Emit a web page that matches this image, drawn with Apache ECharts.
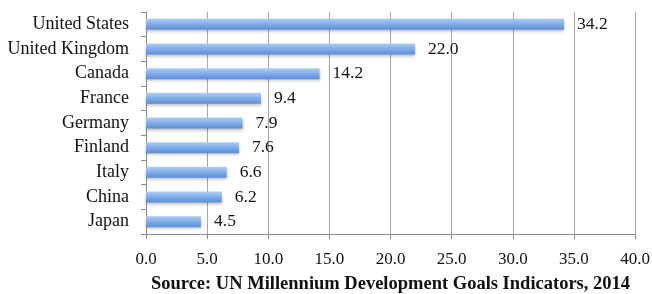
<!DOCTYPE html>
<html>
<head>
<meta charset="utf-8">
<script src="https://cdn.jsdelivr.net/npm/echarts@6/dist/echarts.min.js"></script>
<style>
  html, body { margin: 0; padding: 0; background: #fff; }
  #chart { width: 652px; height: 294px; }
</style>
</head>
<body>
<div id="chart"></div>
<script>
// data, top to bottom as in the picture
var countries = ['United States', 'United Kingdom', 'Canada', 'France', 'Germany', 'Finland', 'Italy', 'China', 'Japan'];
var values = [34.2, 22.0, 14.2, 9.4, 7.9, 7.6, 6.6, 6.2, 4.5];
var sourceText = 'Source: UN Millennium Development Goals Indicators, 2014';

var font = 'Liberation Serif';
var chart = echarts.init(document.getElementById('chart'));

var option = {
    animation: false,
    grid: {
        left: 146,
        right: 17,
        top: 12,
        bottom: 60,
        containLabel: false,
        outerBoundsMode: 'none'
    },
    xAxis: {
        type: 'value',
        min: 0,
        max: 40,
        interval: 5,
        name: sourceText,
        nameLocation: 'middle',
        nameGap: 41,
        nameTextStyle: {
            fontFamily: font,
            fontWeight: 'bold',
            fontSize: 18.5,
            color: '#111'
        },
        axisLine: { show: true, lineStyle: { color: '#8c8c8c' } },
        axisTick: { show: true, length: 5, lineStyle: { color: '#8c8c8c' } },
        axisLabel: {
            margin: 17,
            fontFamily: font,
            fontSize: 17,
            color: '#111',
            formatter: function (v) { return v.toFixed(1); }
        },
        splitLine: { show: true, lineStyle: { color: '#a6a6a6' } }
    },
    yAxis: {
        type: 'category',
        inverse: true,
        data: countries,
        axisLine: { show: true, lineStyle: { color: '#8c8c8c' } },
        axisTick: { show: true, length: 5, lineStyle: { color: '#8c8c8c' } },
        axisLabel: {
            margin: 17,
            fontFamily: font,
            fontSize: 18,
            color: '#111'
        }
    },
    series: [{
        type: 'bar',
        data: values,
        barWidth: 11,
        itemStyle: {
            color: new echarts.graphic.LinearGradient(0, 0, 0, 1, [
                { offset: 0, color: '#afcdf3' },
                { offset: 0.45, color: '#84b0ea' },
                { offset: 1, color: '#5a8ed8' }
            ]),
            shadowColor: 'rgba(0,0,0,0.25)',
            shadowBlur: 3,
            shadowOffsetY: 2
        },
        label: {
            show: true,
            position: 'right',
            distance: 13,
            fontFamily: font,
            fontSize: 17.5,
            color: '#111',
            formatter: function (p) { return p.value.toFixed(1); }
        }
    }]
};
chart.setOption(option);
</script>
</body>
</html>
